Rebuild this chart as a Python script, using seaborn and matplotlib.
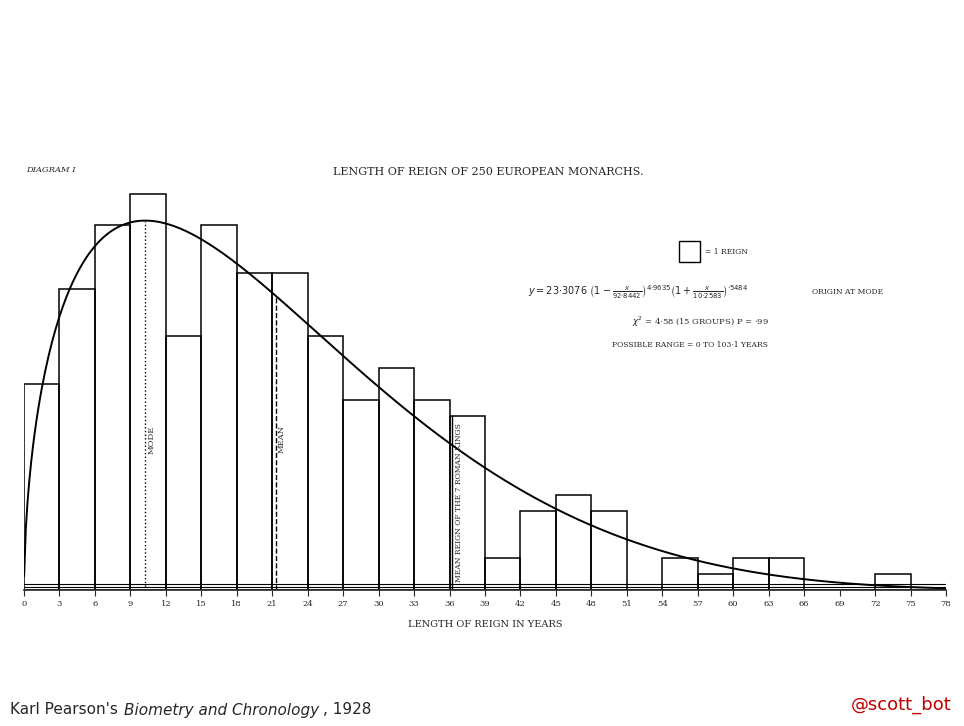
import numpy as np
import matplotlib
matplotlib.use("Agg")
import matplotlib.pyplot as plt
import seaborn as sns

edges = list(range(0, 79, 3))
counts = [13,19,23,25,16,23,20,20,16,12,14,12,11,2,5,6,5,0,2,1,2,2,0,0,1,0]
centers = [e + 1.5 for e in edges[:-1]]
counts = counts[:len(centers)]
tick_labels = [str(e) for e in edges]
# Pearson Type I curve parameters (origin at mode)
y0, a1, m1, a2, m2 = 23.3076, 92.8442, 4.9635, 10.2583, 0.5484
mode_x, mean_x, roman_x = 10.2583, 21.3, 36.2

sns.set_style("white")
plt.rcParams['font.family'] = ['DejaVu Serif']
fig = plt.figure(figsize=(9.64, 7.26), dpi=100)
ax = fig.add_axes([24/964, 1-590/726, 922/964, 420/726])
sns.histplot(x=centers, weights=counts, bins=edges, fill=False, color="black",
             edgecolor="black", linewidth=1.1, ax=ax)
xs = np.linspace(-mode_x + 0.01, 78, 600)
ys = y0 * (1 - xs / a1) ** m1 * (1 + xs / a2) ** m2
ax.plot(xs + mode_x, ys, color="black", lw=1.4)
def yc(v):
    u = v - mode_x
    return y0 * (1 - u / a1) ** m1 * (1 + u / a2) ** m2
ax.plot([mode_x, mode_x], [0, yc(mode_x)], ls=":", color="black", lw=1)
ax.plot([mean_x, mean_x], [0, yc(mean_x)], ls="--", color="black", lw=1)
ax.plot([roman_x, roman_x], [0, 11], ls="-", color="black", lw=1)
ax.text(mode_x + 0.5, 9.5, "MODE", rotation=90, fontsize=6, ha="center", va="center")
ax.text(mean_x + 0.5, 9.5, "MEAN", rotation=90, fontsize=6, ha="center", va="center")
ax.text(roman_x + 0.6, 5.5, "MEAN REIGN OF THE 7 ROMAN KINGS", rotation=90, fontsize=5.5, ha="center", va="center")
for yy in [0.0, 0.2, 0.4]:
    ax.axhline(yy, color="black", lw=0.8)
ax.set_xlim(0, 78)
ax.set_ylim(0, 26.5)
ax.set_xticks(edges)
ax.set_xticklabels(tick_labels, fontsize=6)
ax.tick_params(axis="x", length=4, direction="out", bottom=True, width=0.8)
ax.set_yticks([])
ax.set_ylabel("")
ax.set_xlabel("LENGTH OF REIGN IN YEARS", fontsize=7, labelpad=8)
for s in ["top", "left", "right"]:
    ax.spines[s].set_visible(False)
ax.spines["bottom"].set_linewidth(1.2)

fig.text(333/964, 1-172/726, "LENGTH OF REIGN OF 250 EUROPEAN MONARCHS.", fontsize=8, va="center")
fig.text(26/964, 1-170/726, "DIAGRAM I", fontsize=6, style="italic", va="center")
fig.add_artist(plt.Rectangle((679/964, 1-262/726), 21/964, 21/726, fill=False, lw=1,
                             edgecolor="black", transform=fig.transFigure))
fig.text(705/964, 1-252/726, "= 1 REIGN", fontsize=5.5, va="center")
fig.text(528/964, 1-292/726,
         r"$y = 23{\cdot}3076\ \left(1-\frac{x}{92{\cdot}8442}\right)^{4{\cdot}9635}\left(1+\frac{x}{10{\cdot}2583}\right)^{{\cdot}5484}$",
         fontsize=7, va="center")
fig.text(812/964, 1-292/726, "ORIGIN AT MODE", fontsize=5.5, va="center")
fig.text(632/964, 1-322/726, r"$\chi^2$ = 4·58 (15 GROUPS) P = ·99", fontsize=6, va="center")
fig.text(612/964, 1-345/726, "POSSIBLE RANGE = 0 TO 103·1 YEARS", fontsize=5.5, va="center")
fig.text(10/964, 1-710/726, "Karl Pearson's", fontsize=11, family="DejaVu Sans", va="center")
fig.text(124/964, 1-710/726, "Biometry and Chronology", fontsize=11, family="DejaVu Sans", style="italic", va="center")
fig.text(323/964, 1-710/726, ", 1928", fontsize=11, family="DejaVu Sans", va="center")
fig.text(952/964, 1-705/726, "@scott_bot", fontsize=13, family="DejaVu Sans", color="#c00000", ha="right", va="center")
fig.savefig("out.png", dpi=100, facecolor="white")
